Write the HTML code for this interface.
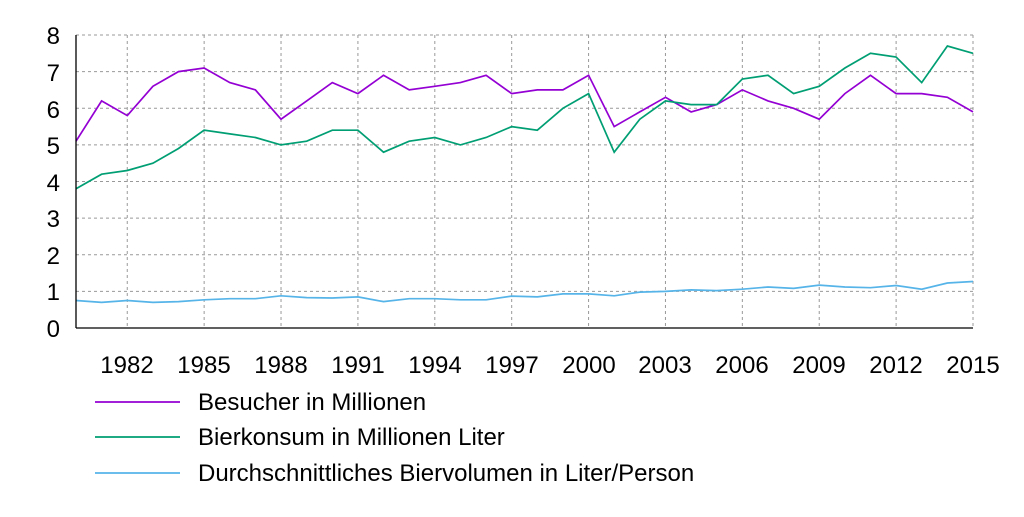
<!DOCTYPE html>
<html><head><meta charset="utf-8"><style>
html,body{margin:0;padding:0;background:#fff;}
svg text{font-family:"Liberation Sans",sans-serif;font-size:24px;fill:#000;}
</style></head><body>
<svg id="s" width="1024" height="512" viewBox="0 0 1024 512">
<g id="grid" stroke="#999" stroke-width="1" stroke-dasharray="3,3" fill="none"></g>
<g id="series" fill="none" stroke-width="1.7"></g>
<line x1="76" y1="35" x2="76" y2="328" stroke="#000" stroke-width="1.3"/>
<line x1="76" y1="328" x2="973" y2="328" stroke="#000" stroke-width="1.3"/>
<g text-anchor="end">
<text x="60" y="337">0</text><text x="60" y="300">1</text><text x="60" y="264">2</text><text x="60" y="227">3</text><text x="60" y="191">4</text><text x="60" y="154">5</text><text x="60" y="118">6</text><text x="60" y="81">7</text><text x="60" y="44">8</text>
</g>
<g text-anchor="middle">
<text x="127" y="373">1982</text><text x="204" y="373">1985</text><text x="281" y="373">1988</text><text x="358" y="373">1991</text><text x="435" y="373">1994</text><text x="512" y="373">1997</text><text x="589" y="373">2000</text><text x="665" y="373">2003</text><text x="742" y="373">2006</text><text x="819" y="373">2009</text><text x="896" y="373">2012</text><text x="973" y="373">2015</text>
</g>
<line x1="95" y1="402" x2="180" y2="402" stroke="#9400d3" stroke-width="1.7"/>
<line x1="95" y1="437" x2="180" y2="437" stroke="#009e73" stroke-width="1.7"/>
<line x1="95" y1="473" x2="180" y2="473" stroke="#56b4e9" stroke-width="1.7"/>
<text x="198" y="410">Besucher in Millionen</text>
<text x="198" y="445">Bierkonsum in Millionen Liter</text>
<text x="198" y="481">Durchschnittliches Biervolumen in Liter/Person</text>
</svg>
<script>
var X=function(i){return 76+i*(897/35)},Y=function(v){return 328-v*36.625};
var g=document.getElementById('grid'),ns="http://www.w3.org/2000/svg";
function ln(x1,y1,x2,y2){var l=document.createElementNS(ns,'line');l.setAttribute('x1',x1);l.setAttribute('y1',y1);l.setAttribute('x2',x2);l.setAttribute('y2',y2);g.appendChild(l);}
for(var v=1;v<=8;v++)ln(76,Y(v),973,Y(v));
for(var i=2;i<=35;i+=3)ln(X(i),35,X(i),328);
var d=[["#9400d3",[5.1,6.2,5.8,6.6,7.0,7.1,6.7,6.5,5.7,6.2,6.7,6.4,6.9,6.5,6.6,6.7,6.9,6.4,6.5,6.5,6.9,5.5,5.9,6.3,5.9,6.1,6.5,6.2,6.0,5.7,6.4,6.9,6.4,6.4,6.3,5.9]],
["#009e73",[3.8,4.2,4.3,4.5,4.9,5.4,5.3,5.2,5.0,5.1,5.4,5.4,4.8,5.1,5.2,5.0,5.2,5.5,5.4,6.0,6.4,4.8,5.7,6.2,6.1,6.1,6.8,6.9,6.4,6.6,7.1,7.5,7.4,6.7,7.7,7.5]],
["#56b4e9",[0.75,0.7,0.75,0.7,0.72,0.77,0.8,0.8,0.88,0.83,0.82,0.85,0.72,0.8,0.8,0.77,0.77,0.87,0.85,0.93,0.93,0.88,0.98,1.0,1.04,1.02,1.06,1.12,1.08,1.17,1.12,1.1,1.16,1.06,1.23,1.27]]];
var s=document.getElementById('series');
d.forEach(function(a){var p=document.createElementNS(ns,'polyline');p.setAttribute('stroke',a[0]);p.setAttribute('points',a[1].map(function(v,i){return X(i).toFixed(1)+','+Y(v).toFixed(1)}).join(' '));s.appendChild(p);});
</script>
</body></html>
